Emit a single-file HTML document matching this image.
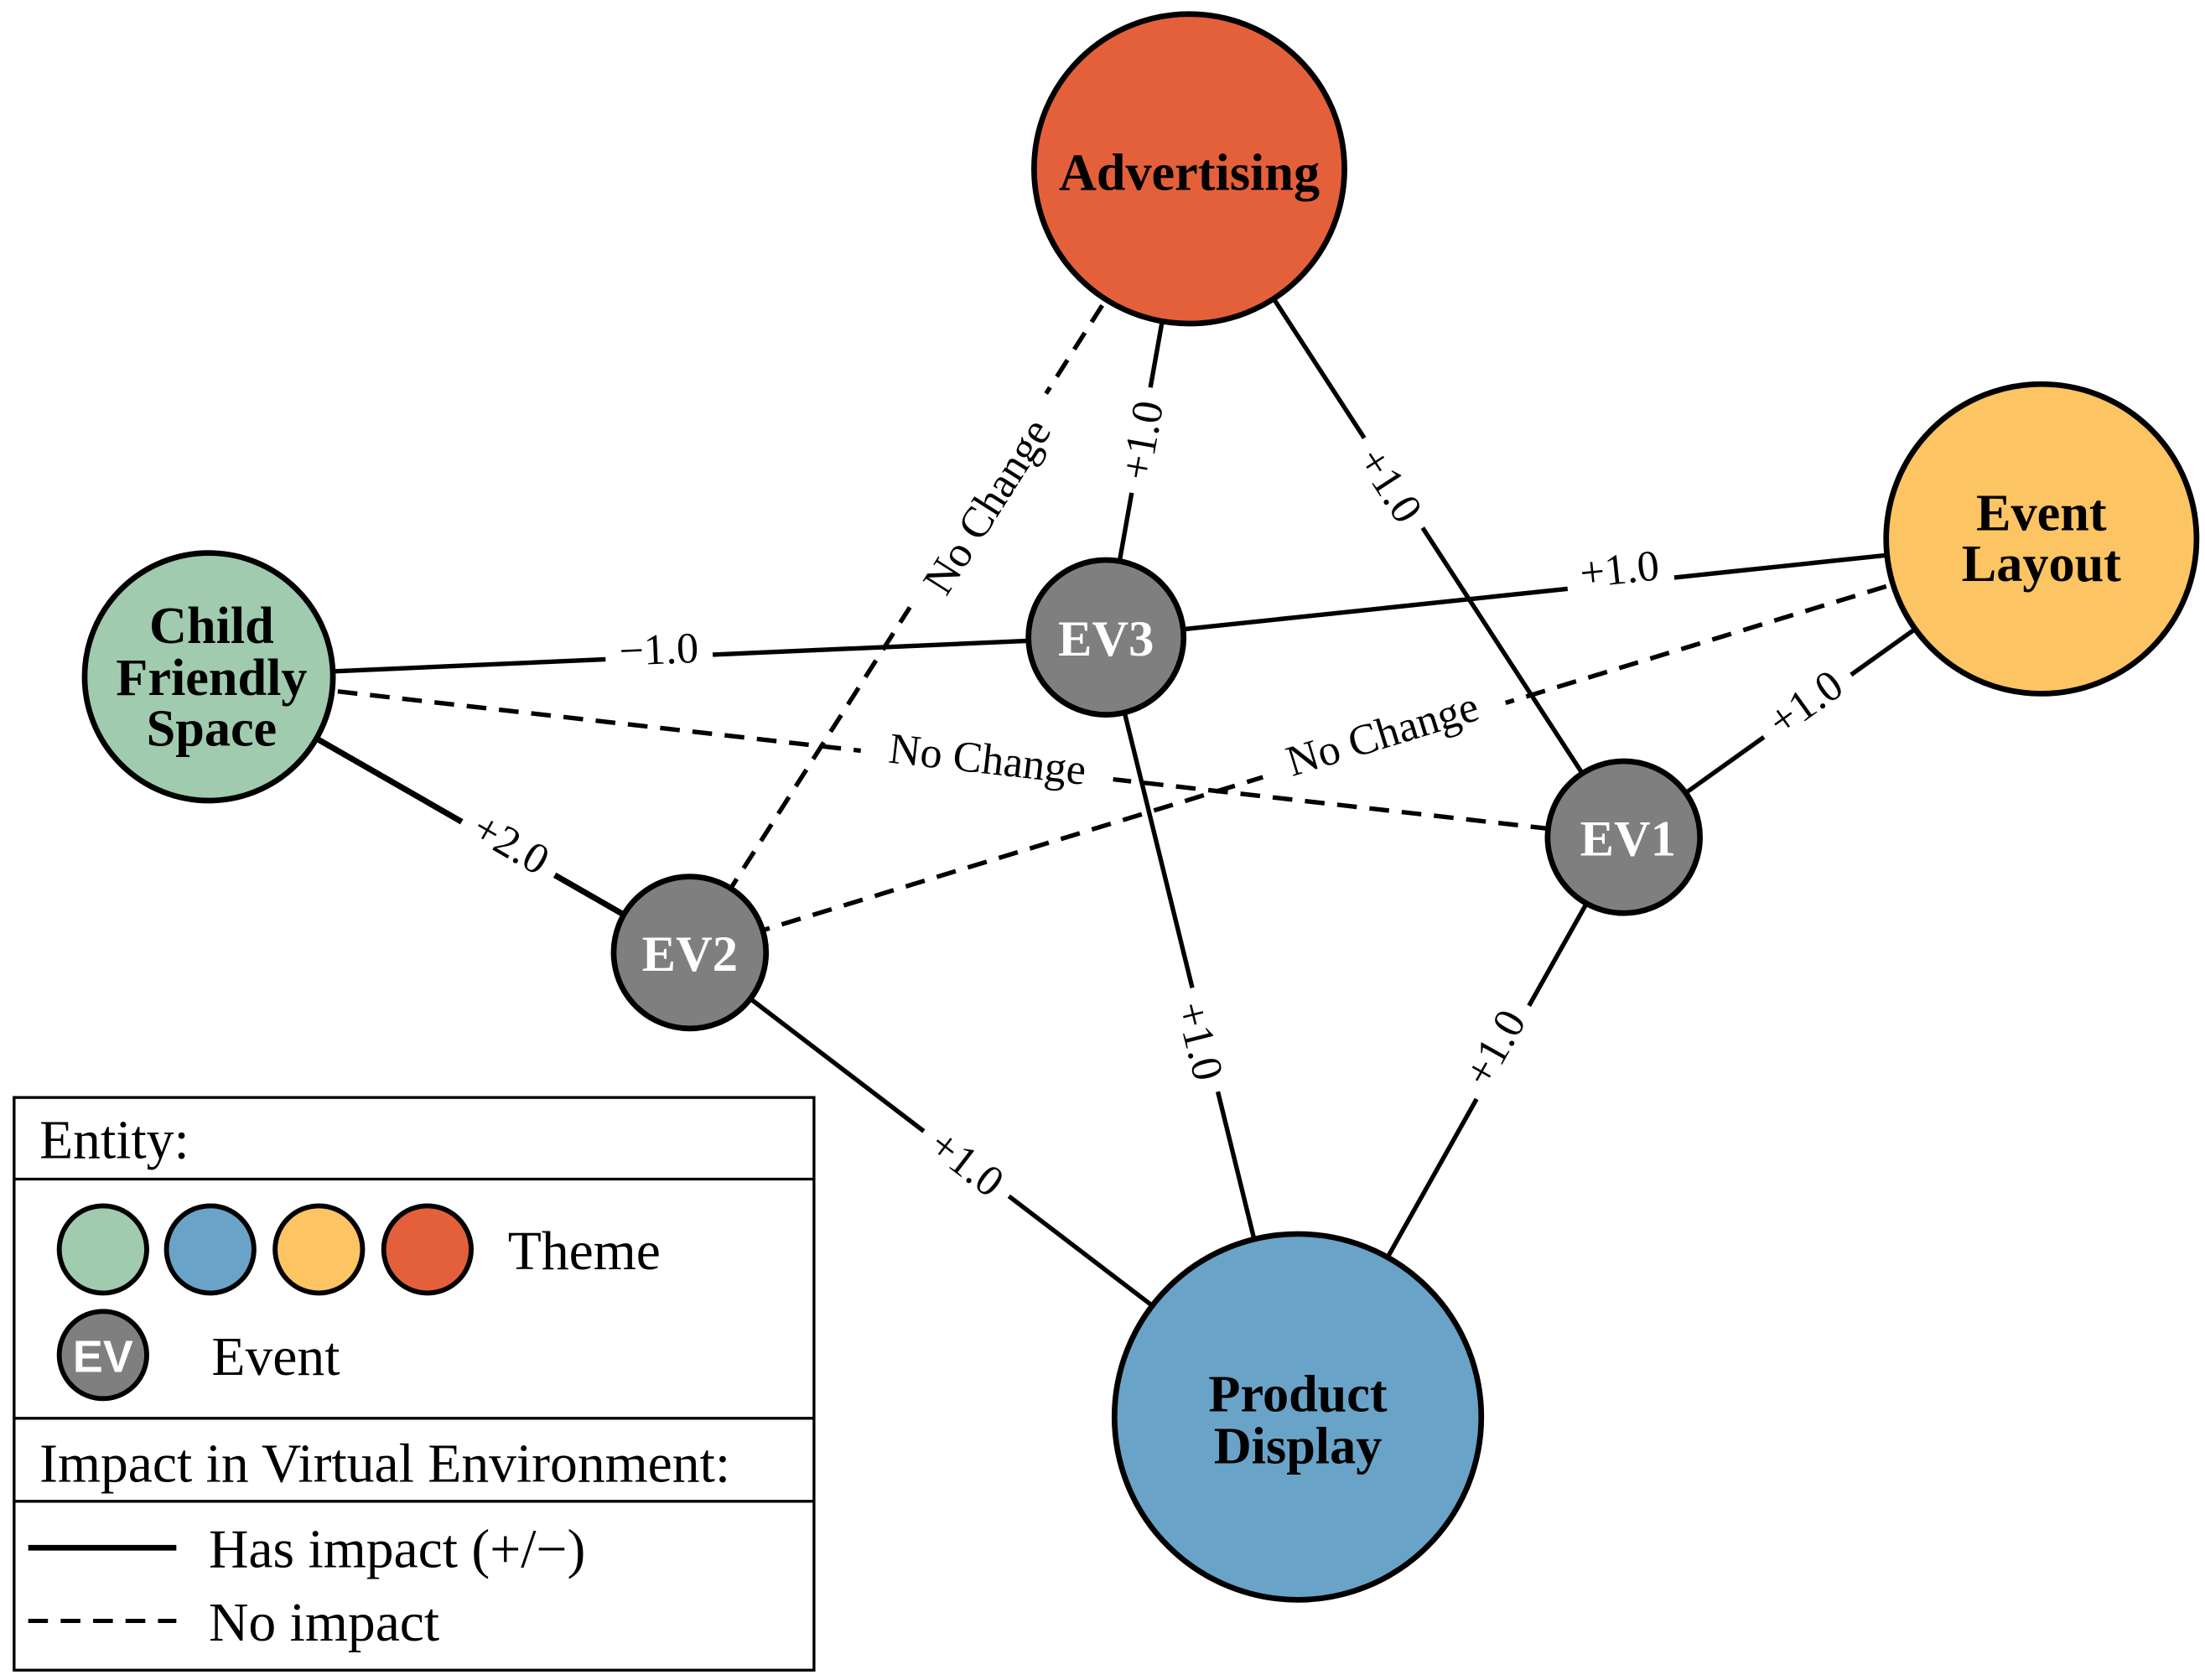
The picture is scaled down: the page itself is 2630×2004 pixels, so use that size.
<!DOCTYPE html>
<html><head><meta charset="utf-8"><style>
html,body{margin:0;padding:0;background:#fff;}
svg{display:block;}
text{font-family:"Liberation Serif",serif;}
.n{font-weight:bold;font-size:37px;text-anchor:middle;}
.e{font-weight:bold;font-size:36px;fill:#fff;text-anchor:middle;}
.l{font-size:31px;text-anchor:middle;dominant-baseline:central;}
.lg{font-size:39px;}
</style></head><body>
<svg width="2630" height="2004" viewBox="0 0 1563 1194" preserveAspectRatio="none" xmlns="http://www.w3.org/2000/svg">
<rect width="1563" height="1194" fill="#fff"/>
<g stroke="#000" stroke-width="3.2" fill="none">
<line x1="148" y1="481" x2="784" y2="453"/>
<line x1="784" y1="453" x2="1447" y2="383"/>
<line x1="148" y1="481" x2="1151" y2="595" stroke-dasharray="14,9"/>
<line x1="148" y1="481" x2="489" y2="677" stroke-width="4.2"/>
<line x1="843" y1="120" x2="489" y2="677" stroke-dasharray="14,9"/>
<line x1="843" y1="120" x2="784" y2="453"/>
<line x1="843" y1="120" x2="1151" y2="595"/>
<line x1="1447" y1="383" x2="489" y2="677" stroke-dasharray="14,9"/>
<line x1="1447" y1="383" x2="1151" y2="595"/>
<line x1="784" y1="453" x2="920" y2="1007"/>
<line x1="1151" y1="595" x2="920" y2="1007"/>
<line x1="489" y1="677" x2="920" y2="1007"/>
</g>
<g class="l">
<g transform="translate(467,462) rotate(-2.5)"><rect x="-38" y="-17" width="76" height="34" fill="#fff"/><text class="l">−1.0</text></g>
<g transform="translate(1148,405) rotate(-6)"><rect x="-38" y="-17" width="76" height="34" fill="#fff"/><text class="l">+1.0</text></g>
<g transform="translate(700,540) rotate(6.5)"><rect x="-90" y="-17" width="180" height="34" fill="#fff"/><text class="l">No Change</text></g>
<g transform="translate(362,600) rotate(30)"><rect x="-38" y="-17" width="76" height="34" fill="#fff"/><text class="l">+2.0</text></g>
<g transform="translate(700,360) rotate(-57.6)"><rect x="-90" y="-17" width="180" height="34" fill="#fff"/><text class="l">No Change</text></g>
<g transform="translate(810,313) rotate(-80)"><rect x="-38" y="-17" width="76" height="34" fill="#fff"/><text class="l">+1.0</text></g>
<g transform="translate(985,345) rotate(57)"><rect x="-38" y="-17" width="76" height="34" fill="#fff"/><text class="l">+1.0</text></g>
<g transform="translate(980,522) rotate(-17)"><rect x="-90" y="-17" width="180" height="34" fill="#fff"/><text class="l">No Change</text></g>
<g transform="translate(1280,500) rotate(-35.6)"><rect x="-38" y="-17" width="76" height="34" fill="#fff"/><text class="l">+1.0</text></g>
<g transform="translate(850,740) rotate(76)"><rect x="-38" y="-17" width="76" height="34" fill="#fff"/><text class="l">+1.0</text></g>
<g transform="translate(1060,745) rotate(-60.7)"><rect x="-38" y="-17" width="76" height="34" fill="#fff"/><text class="l">+1.0</text></g>
<g transform="translate(685,827) rotate(37.5)"><rect x="-38" y="-17" width="76" height="34" fill="#fff"/><text class="l">+1.0</text></g>
</g>
<g stroke="#000" stroke-width="4">
<circle cx="843" cy="120" r="110" fill="#e4603a"/>
<circle cx="1447" cy="383" r="110" fill="#fcc462"/>
<circle cx="148" cy="481" r="88" fill="#a0cbae"/>
<circle cx="920" cy="1007" r="130" fill="#6aa3c8"/>
<circle cx="784" cy="453" r="55" fill="#7f7f7f"/>
<circle cx="1151" cy="595" r="54" fill="#7f7f7f"/>
<circle cx="489" cy="677" r="54" fill="#7f7f7f"/>
</g>
<text class="n" x="843" y="135">Advertising</text>
<text class="n" x="1447" y="377">Event</text><text class="n" x="1447" y="413">Layout</text>
<text class="n" x="150" y="457">Child</text><text class="n" x="150" y="494">Friendly</text><text class="n" x="150" y="530">Space</text>
<text class="n" x="920" y="1003">Product</text><text class="n" x="920" y="1040">Display</text>
<text class="e" x="784" y="466">EV3</text>
<text class="e" x="1154" y="608">EV1</text>
<text class="e" x="489" y="690">EV2</text>
<g stroke="#000" stroke-width="2" fill="none">
<rect x="10" y="780" width="567" height="407"/>
<line x1="10" y1="838" x2="577" y2="838"/>
<line x1="10" y1="1008" x2="577" y2="1008"/>
<line x1="10" y1="1067" x2="577" y2="1067"/>
</g>
<text class="lg" x="28" y="823">Entity:</text>
<g stroke="#000" stroke-width="3.5">
<circle cx="73" cy="888" r="31" fill="#a0cbae"/>
<circle cx="149" cy="888" r="31" fill="#6aa3c8"/>
<circle cx="226" cy="888" r="31" fill="#fcc462"/>
<circle cx="303" cy="888" r="31" fill="#e4603a"/>
<circle cx="73" cy="963" r="31" fill="#7f7f7f"/>
</g>
<text x="73" y="975" text-anchor="middle" style="font-family:'Liberation Sans',sans-serif;font-weight:bold;font-size:32px;fill:#fff">EV</text>
<text class="lg" x="360" y="902">Theme</text>
<text class="lg" x="150" y="977">Event</text>
<text class="lg" x="28" y="1053">Impact in Virtual Environment:</text>
<line x1="20" y1="1100" x2="125" y2="1100" stroke="#000" stroke-width="4"/>
<line x1="20" y1="1152" x2="125" y2="1152" stroke="#000" stroke-width="3" stroke-dasharray="14,9"/>
<text class="lg" x="148" y="1114">Has impact (+/−)</text>
<text class="lg" x="148" y="1166">No impact</text>
</svg>
</body></html>
